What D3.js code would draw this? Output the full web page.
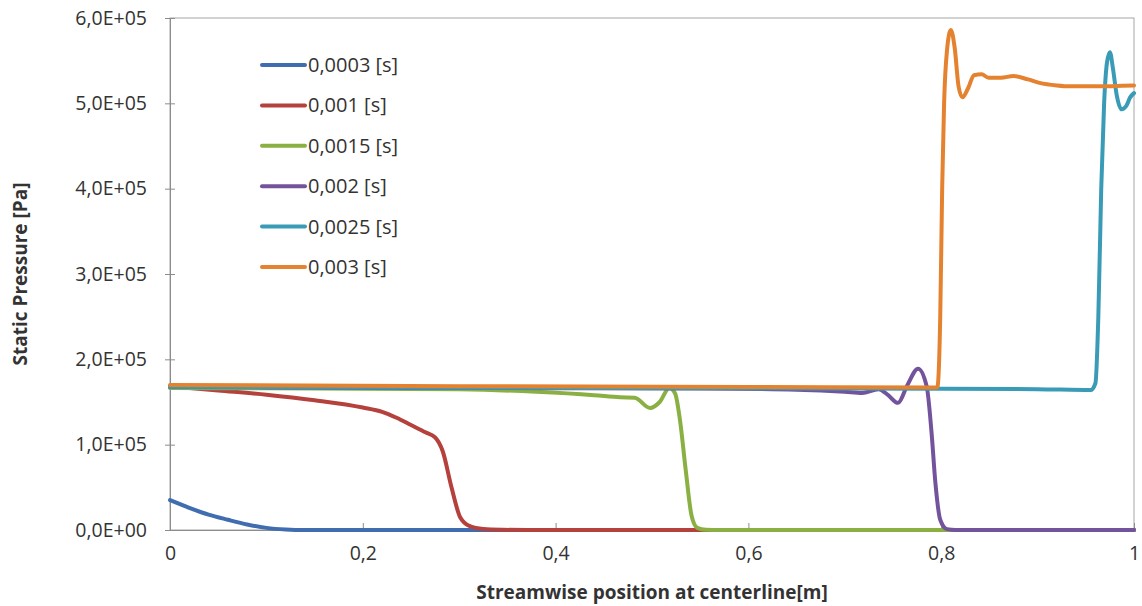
<!DOCTYPE html>
<html>
<head>
<meta charset="utf-8">
<script src="https://cdn.jsdelivr.net/npm/d3@7/dist/d3.min.js"></script>
<style>
  html, body { margin: 0; padding: 0; background: #fff; }
  svg { display: block; }
  text { font-family: "Open Sans", "DejaVu Sans", sans-serif; fill: #333; }
</style>
</head>
<body>
<svg id="chart" width="1142" height="606"></svg>
<script>
// Static pressure along the centreline at six instants
const seriesNames = ["0,0003 [s]", "0,001 [s]", "0,0015 [s]", "0,002 [s]", "0,0025 [s]", "0,003 [s]"];
const seriesColors = ["#3F6DB0", "#B5413D", "#8AB043", "#73549C", "#3A9BB7", "#E5822F"];

const xTicks = [0, 0.2, 0.4, 0.6, 0.8, 1];
const xTickLabels = ["0", "0,2", "0,4", "0,6", "0,8", "1"];
const yTicks = [0, 1e5, 2e5, 3e5, 4e5, 5e5, 6e5];
const yTickLabels = ["0,0E+00", "1,0E+05", "2,0E+05", "3,0E+05", "4,0E+05", "5,0E+05", "6,0E+05"];

// [position m, pressure Pa]
const t0003 = [[0,35000],[0.02,26000],[0.04,18000],[0.06,12000],[0.08,6500],[0.1,2500],[0.12,600],[0.14,0],[0.3,0],[0.6,0],[1,0]];
const t001 = [[0,168500],[0.05,163500],[0.1,158500],[0.15,152000],[0.2,143500],[0.22,138500],[0.235,131500],[0.25,123000],[0.265,114500],[0.275,108500],[0.283,92000],[0.292,50000],[0.301,15000],[0.311,4500],[0.325,1200],[0.345,300],[0.37,0],[0.6,0],[1,0]];
const t0015 = [[0,166500],[0.1,166000],[0.2,165500],[0.3,164800],[0.38,162000],[0.44,158000],[0.467,155500],[0.482,155000],[0.498,143000],[0.508,150000],[0.518,166500],[0.524,160000],[0.529,129000],[0.535,70000],[0.541,17000],[0.547,2500],[0.556,300],[0.57,0],[0.8,0],[1,0]];
const t002 = [[0,167500],[0.2,166800],[0.4,166200],[0.55,165800],[0.65,164500],[0.7,162000],[0.718,160500],[0.735,165000],[0.745,158000],[0.755,149000],[0.765,170000],[0.776,189000],[0.785,168000],[0.79,114000],[0.794,55000],[0.799,12000],[0.806,1000],[0.815,0],[1,0]];
const t0025 = [[0,168000],[0.3,166800],[0.6,166000],[0.8,165500],[0.9,165000],[0.955,164000],[0.96,172000],[0.963,250000],[0.966,400000],[0.969,500000],[0.972,548000],[0.975,560000],[0.978,542000],[0.982,510000],[0.987,493000],[0.992,497000],[0.996,507000],[1,512000]];
const t003 = [[0,170000],[0.3,168500],[0.6,167500],[0.796,167000],[0.799,250000],[0.801,400000],[0.803,500000],[0.806,562000],[0.81,586000],[0.814,565000],[0.818,520000],[0.822,507000],[0.828,518000],[0.834,533000],[0.842,534000],[0.849,530000],[0.862,530000],[0.875,532000],[0.89,528000],[0.902,524000],[0.92,521000],[0.934,520000],[0.96,520000],[1,521000]];

const seriesData = [t0003, t001, t0015, t002, t0025, t003];

const svg = d3.select("#chart");
const margin = { left: 170, right: 8, top: 18, bottom: 76 };
const W = 1142, H = 606;
const x = d3.scaleLinear().domain([0, 1]).range([margin.left, W - margin.right]);
const y = d3.scaleLinear().domain([0, 6e5]).range([H - margin.bottom, margin.top]);

// plot frame
svg.append("rect")
  .attr("x", x(0)).attr("y", y(6e5))
  .attr("width", x(1) - x(0)).attr("height", y(0) - y(6e5))
  .attr("fill", "none").attr("stroke", "#a6a6a6").attr("stroke-width", 1);

// y axis
const yAxis = d3.axisLeft(y).tickValues(yTicks)
  .tickFormat((d, i) => yTickLabels[i]).tickSizeInner(5).tickSizeOuter(0).tickPadding(18);
const gy = svg.append("g").attr("transform", `translate(${x(0)},0)`).call(yAxis);
gy.select(".domain").attr("stroke", "#8c8c8c");
gy.selectAll(".tick line").attr("stroke", "#8c8c8c").attr("x2", -5).attr("x1", 5);
gy.selectAll(".tick text").attr("font-size", 19.5).attr("fill", "#333");

// x axis
const xAxis = d3.axisBottom(x).tickValues(xTicks)
  .tickFormat((d, i) => xTickLabels[i]).tickSizeInner(0).tickSizeOuter(0).tickPadding(16);
const gx = svg.append("g").attr("transform", `translate(0,${y(0)})`).call(xAxis);
gx.select(".domain").attr("stroke", "#8c8c8c");
gx.selectAll(".tick line").attr("stroke", "#8c8c8c").attr("y1", -7).attr("y2", 0);
gx.selectAll(".tick text").attr("font-size", 19.5).attr("fill", "#333");

// axis titles
svg.append("text")
  .attr("x", 652).attr("y", 599)
  .attr("text-anchor", "middle").attr("font-size", 19).attr("font-weight", "bold")
  .attr("fill", "#1a1a1a")
  .text("Streamwise position at centerline[m]");
svg.append("text")
  .attr("transform", `translate(27,${(y(0) + y(6e5)) / 2}) rotate(-90)`)
  .attr("text-anchor", "middle").attr("font-size", 19).attr("font-weight", "bold")
  .attr("fill", "#1a1a1a")
  .text("Static Pressure [Pa]");

// series lines
const line = d3.line().x(d => x(d[0])).y(d => y(d[1])).curve(d3.curveMonotoneX);
svg.append("g").selectAll("path").data(seriesData).join("path")
  .attr("d", line)
  .attr("fill", "none")
  .attr("stroke", (d, i) => seriesColors[i])
  .attr("stroke-width", 4)
  .attr("stroke-linejoin", "round")
  .attr("stroke-linecap", "round");

// legend
const legend = svg.append("g");
const lg = legend.selectAll("g").data(seriesNames).join("g")
  .attr("transform", (d, i) => `translate(262,${65 + i * 40.4})`);
lg.append("line").attr("x1", 0).attr("x2", 43).attr("y1", 0).attr("y2", 0)
  .attr("stroke", (d, i) => seriesColors[i]).attr("stroke-width", 4).attr("stroke-linecap", "round");
lg.append("text").attr("x", 46).attr("y", 0).attr("dy", "0.35em")
  .attr("font-size", 20).attr("fill", "#262626").text(d => d);
</script>
</body>
</html>
